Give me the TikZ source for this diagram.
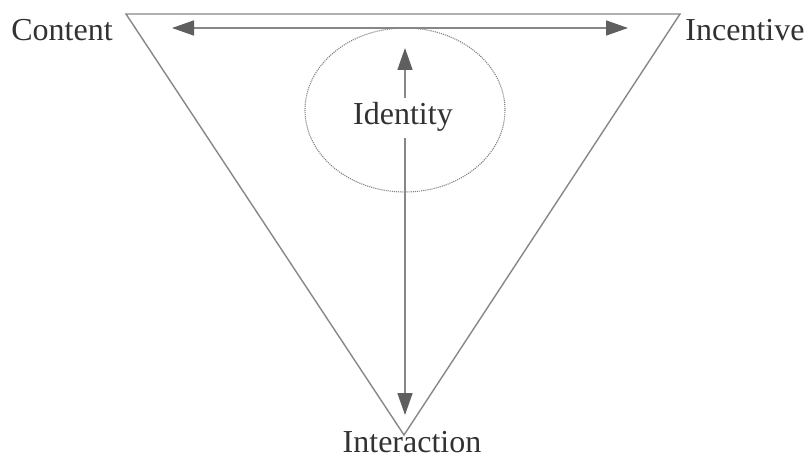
\documentclass[tikz,border=0pt]{standalone}
\usepackage{fontspec}
\setmainfont{Liberation Serif}
\usetikzlibrary{arrows.meta}
\definecolor{linegray}{RGB}{135,135,135}
\definecolor{headgray}{RGB}{95,95,95}
\definecolor{textgray}{RGB}{50,50,50}
\begin{document}
\begin{tikzpicture}[x=1pt,y=-1pt,
  lbl/.style={inner sep=0pt, text=textgray, font=\fontsize{32}{36}\selectfont},
  edge/.style={draw=linegray, line width=1.4pt},
  arr/.style={draw=linegray, line width=1.6pt, -{Triangle[length=22pt,width=15pt,fill=headgray,color=headgray]}},
  darr/.style={draw=linegray, line width=1.6pt, {Triangle[length=22pt,width=15pt,fill=headgray,color=headgray]}-{Triangle[length=22pt,width=15pt,fill=headgray,color=headgray]}}]
\useasboundingbox (0,0) rectangle (809,460);
% triangle corners
\coordinate (tl) at (126,14);
\coordinate (tr) at (680,14);
\coordinate (bt) at (404,435);
\draw[edge, line join=miter] (tl) -- (tr) -- (bt) -- cycle;
% dotted ellipse
\draw[gray, line width=1.1pt, densely dotted] (405,110) ellipse [x radius=100, y radius=82];
% labels
\node[lbl] (content) at (62,30) {Content};
\node[lbl] (incentive) at (745,30) {Incentive};
\node[lbl] (identity) at (403,117) {Identity};
\node[lbl] (interaction) at (412,442) {Interaction};
% arrows
\coordinate (hl) at (172,28);
\coordinate (hr) at (628,28);
\draw[darr] (hl) -- (hr);
\coordinate (vtop) at (405,48);
\coordinate (vbot) at (405,415);
\draw[arr] (identity.north -| vtop) ++(0,-4) -- (vtop);
\draw[arr] (identity.south -| vbot) ++(0,6) -- (vbot);
\end{tikzpicture}
\end{document}
